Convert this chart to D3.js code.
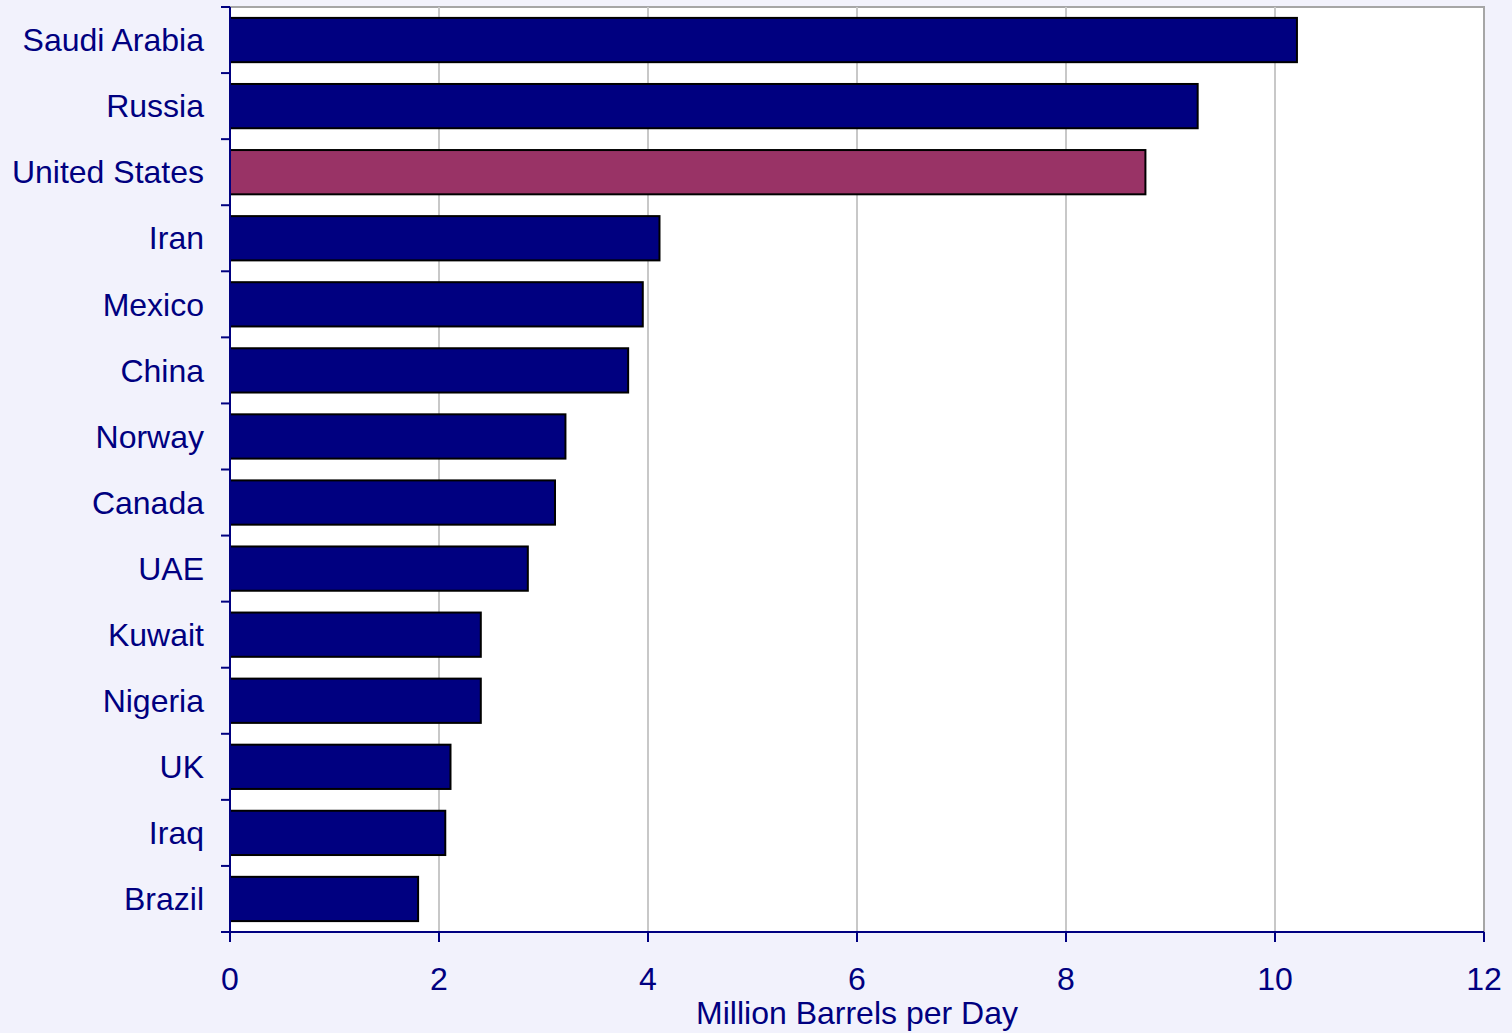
<!DOCTYPE html>
<html>
<head>
<meta charset="utf-8">
<script src="https://cdn.jsdelivr.net/npm/d3@7"></script>
<style>
  body { margin: 0; background: #f2f2fc; }
  svg { display: block; font-family: "Liberation Sans", Arial, sans-serif; }
</style>
</head>
<body>
<div id="chart"></div>
<script>
const countries = ["Saudi Arabia", "Russia", "United States", "Iran", "Mexico", "China", "Norway",
    "Canada", "UAE", "Kuwait", "Nigeria", "UK", "Iraq", "Brazil"];
const production = [10.21, 9.26, 8.76, 4.11, 3.95, 3.81, 3.21, 3.11, 2.85, 2.40, 2.40, 2.11, 2.06, 1.80];
const xTicks = [0, 2, 4, 6, 8, 10, 12];
const highlight = "United States";

const width = 1512, height = 1033;
const margin = {top: 7, right: 28, bottom: 101, left: 230};
const navy = "#000080";

const svg = d3.select("#chart")
    .append("svg")
    .attr("width", width)
    .attr("height", height);

const x = d3.scaleLinear()
    .domain([0, 12])
    .range([margin.left, width - margin.right]);

const y = d3.scaleBand()
    .domain(countries)
    .range([margin.top, height - margin.bottom])
    .paddingInner(0.33)
    .paddingOuter(0.165);

const yEdge = d3.scaleLinear()
    .domain([0, countries.length])
    .range([margin.top, height - margin.bottom]);

// plot area
svg.append("rect")
    .attr("x", x(0))
    .attr("y", margin.top)
    .attr("width", x(12) - x(0))
    .attr("height", height - margin.bottom - margin.top)
    .attr("fill", "#ffffff")
    .attr("stroke", "#a6a6a6")
    .attr("stroke-width", 2);

// gridlines
svg.append("g")
    .selectAll("line")
    .data(xTicks.slice(1, -1))
    .join("line")
    .attr("x1", d => x(d))
    .attr("x2", d => x(d))
    .attr("y1", margin.top)
    .attr("y2", height - margin.bottom)
    .attr("stroke", "#c8c8c8")
    .attr("stroke-width", 2);

// bars
svg.append("g")
    .selectAll("rect")
    .data(countries)
    .join("rect")
    .attr("x", x(0))
    .attr("y", d => y(d))
    .attr("width", (d, i) => x(production[i]) - x(0))
    .attr("height", y.bandwidth())
    .attr("fill", d => d === highlight ? "#993366" : navy)
    .attr("stroke", "#000000")
    .attr("stroke-width", 2);

// y axis
const yAxis = svg.append("g");
yAxis.append("line")
    .attr("x1", x(0)).attr("x2", x(0))
    .attr("y1", margin.top).attr("y2", height - margin.bottom)
    .attr("stroke", navy).attr("stroke-width", 2);
yAxis.selectAll(".tick")
    .data(d3.range(countries.length + 1))
    .join("line")
    .attr("x1", x(0) - 9).attr("x2", x(0))
    .attr("y1", d => yEdge(d)).attr("y2", d => yEdge(d))
    .attr("stroke", navy).attr("stroke-width", 2);
yAxis.selectAll("text")
    .data(countries)
    .join("text")
    .attr("x", 204)
    .attr("y", d => y(d) + y.bandwidth() / 2)
    .attr("dy", "0.35em")
    .attr("text-anchor", "end")
    .attr("fill", navy)
    .style("font-size", "32px")
    .text(d => d);

// x axis
const xAxis = svg.append("g");
xAxis.append("line")
    .attr("x1", x(0) - 9).attr("x2", x(12))
    .attr("y1", height - margin.bottom).attr("y2", height - margin.bottom)
    .attr("stroke", navy).attr("stroke-width", 2);
xAxis.selectAll(".tick")
    .data(xTicks)
    .join("line")
    .attr("x1", d => x(d)).attr("x2", d => x(d))
    .attr("y1", height - margin.bottom).attr("y2", height - margin.bottom + 10)
    .attr("stroke", navy).attr("stroke-width", 2);
xAxis.selectAll("text")
    .data(xTicks)
    .join("text")
    .attr("x", d => x(d))
    .attr("y", 990)
    .attr("text-anchor", "middle")
    .attr("fill", navy)
    .style("font-size", "32px")
    .text(d => d);

svg.append("text")
    .attr("x", (x(0) + x(12)) / 2)
    .attr("y", 1024)
    .attr("text-anchor", "middle")
    .attr("fill", navy)
    .style("font-size", "32px")
    .text("Million Barrels per Day");
</script>
</body>
</html>
